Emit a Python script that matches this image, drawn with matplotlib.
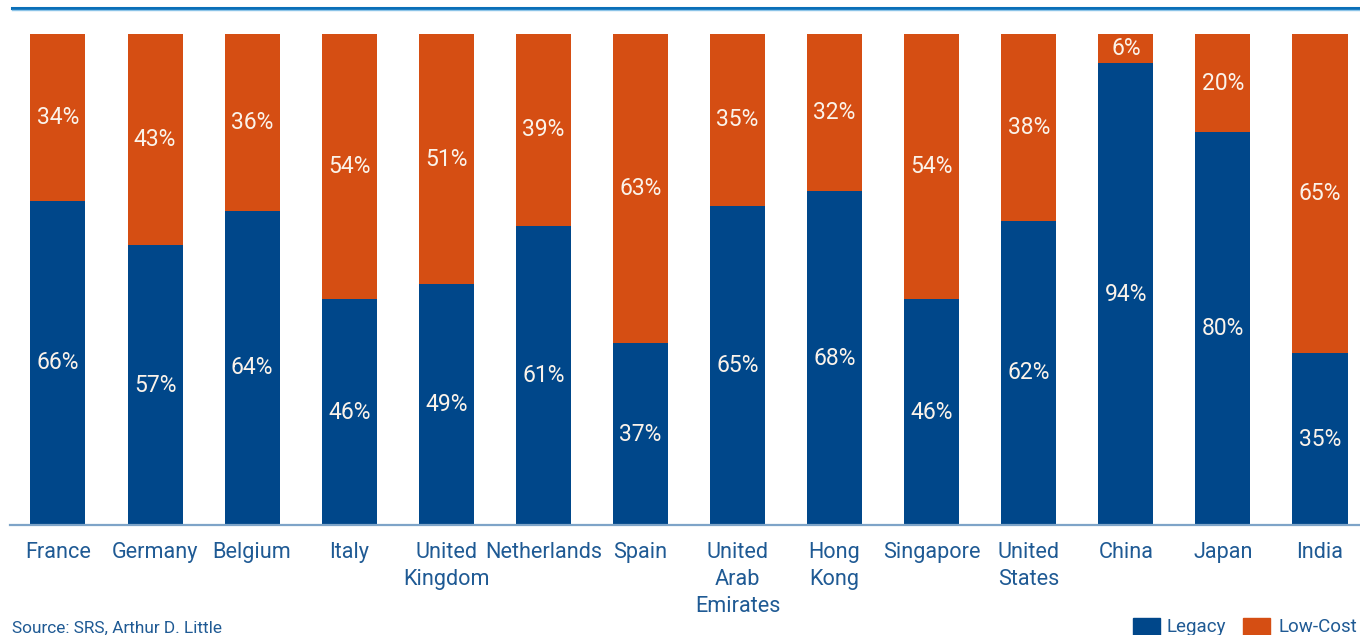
import matplotlib.pyplot as plt
import numpy as np
from matplotlib.patches import Rectangle
from matplotlib.lines import Line2D

countries = ["France", "Germany", "Belgium", "Italy", "United\nKingdom", "Netherlands",
             "Spain", "United\nArab\nEmirates", "Hong\nKong", "Singapore", "United\nStates",
             "China", "Japan", "India"]
legacy = [66, 57, 64, 46, 49, 61, 37, 65, 68, 46, 62, 94, 80, 35]
low_cost = [34, 43, 36, 54, 51, 39, 63, 35, 32, 54, 38, 6, 20, 65]

blue = "#00478a"
orange = "#d54e13"
label_col = "#fbf3ea"
text_blue = "#1f5a94"

plt.rcParams["font.family"] = ["Roboto", "Liberation Sans", "DejaVu Sans"]

fig = plt.figure(figsize=(13.6, 6.35), dpi=100)
ax = fig.add_axes([10 / 1360, 0.1732, 1350 / 1360, 0.7732])

x = np.arange(len(countries))
w = 0.567
ax.bar(x, legacy, width=w, color=blue, zorder=2)
ax.bar(x, low_cost, width=w, bottom=legacy, color=orange, zorder=2)

# percentage labels in the middle of each segment
for i in range(len(countries)):
    ax.text(x[i], legacy[i] / 2, f"{legacy[i]}%", ha="center", va="center",
            color=label_col, fontsize=16.5)
    ax.text(x[i], legacy[i] + low_cost[i] / 2, f"{low_cost[i]}%", ha="center",
            va="center", color=label_col, fontsize=16.5)

ax.set_xlim(-0.494, 13.412)
ax.set_ylim(0, 100)
ax.set_yticks([])
ax.set_xticks(x)
ax.set_xticklabels(countries, fontsize=15.6, color=text_blue, linespacing=1.4)
ax.tick_params(axis="x", length=0, pad=12)
for s in ["top", "right", "left"]:
    ax.spines[s].set_visible(False)
ax.spines["bottom"].set_color("#7ea4c8")
ax.spines["bottom"].set_linewidth(1.6)
ax.set_facecolor("none")

# rule across the top of the figure
fig.add_artist(Line2D([12 / 1360, 1.0], [1 - 7.5 / 635] * 2, color="#0a6fb8", lw=2.2))
fig.add_artist(Line2D([12 / 1360, 1.0], [1 - 9.5 / 635] * 2, color="#8cc4e8", lw=1.0))

fig.text(12 / 1360, 1 - 628 / 635, "Source: SRS, Arthur D. Little", fontsize=12.4,
         color=text_blue, va="center", ha="left")

# legend boxes at the bottom right
fig.add_artist(Rectangle((1133 / 1360, 0), 27 / 1360, 17 / 635, transform=fig.transFigure,
                         color=blue))
fig.text(1167 / 1360, 1 - 627 / 635, "Legacy", fontsize=13.5, color=text_blue, va="center")
fig.add_artist(Rectangle((1243 / 1360, 0), 27 / 1360, 17 / 635, transform=fig.transFigure,
                         color=orange))
fig.text(1278 / 1360, 1 - 627 / 635, "Low-Cost", fontsize=13.5, color=text_blue, va="center")

fig.savefig("out.png", dpi=100)
